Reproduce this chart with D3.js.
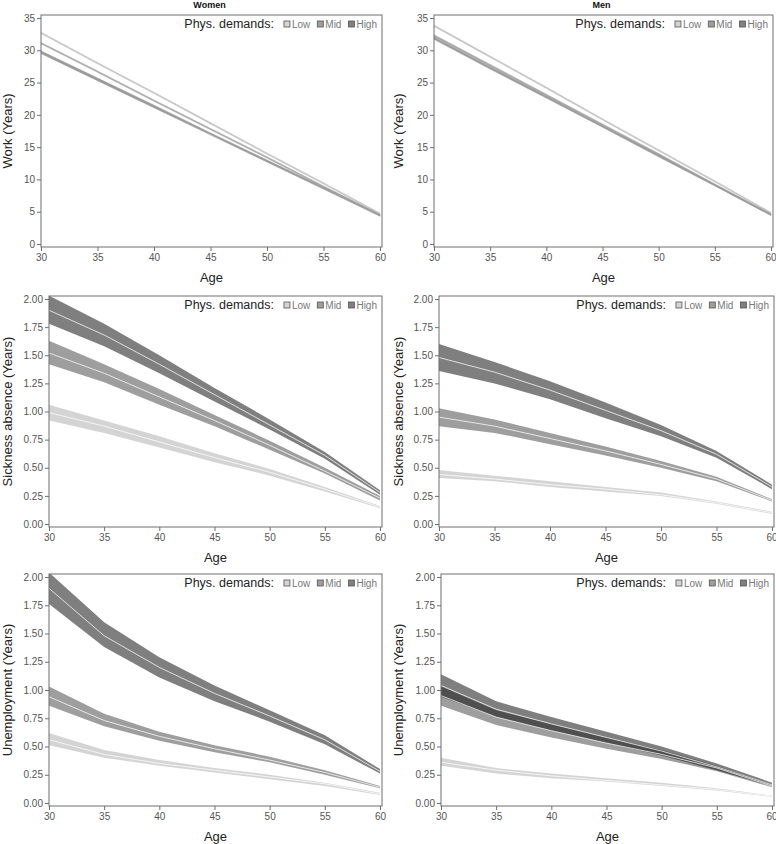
<!DOCTYPE html>
<html>
<head>
<meta charset="utf-8">
<script src="https://cdn.jsdelivr.net/npm/d3@7"></script>
<style>
  body { margin: 0; background: #fff; }
  svg { font-family: "Liberation Sans", Arial, sans-serif; }
</style>
</head>
<body>
<div id="chart"></div>
<script>
// ages on the x axis
const AGES = [30, 35, 40, 45, 50, 55, 60];
const GROUPS = ["Low", "Mid", "High"];

// each value is [lower, estimate, upper]
// Work (Years)
const womenWorkLow  = [[32.6,32.7,32.8],[27.9,28.0,28.1],[23.3,23.4,23.5],[18.6,18.7,18.8],[13.9,14.0,14.1],[9.3,9.4,9.5],[4.6,4.7,4.8]];
const womenWorkMid  = [[31.0,31.1,31.2],[26.6,26.7,26.8],[22.1,22.2,22.3],[17.7,17.8,17.9],[13.3,13.4,13.5],[8.8,8.9,9.0],[4.4,4.5,4.6]];
const womenWorkHigh = [[29.5,29.7,29.9],[25.3,25.5,25.7],[21.1,21.3,21.5],[16.9,17.0,17.2],[12.7,12.8,13.0],[8.5,8.6,8.8],[4.3,4.4,4.5]];
const menWorkLow    = [[33.7,33.8,33.9],[28.9,29.0,29.1],[24.1,24.2,24.3],[19.2,19.3,19.4],[14.4,14.5,14.6],[9.6,9.7,9.8],[4.7,4.8,4.9]];
const menWorkMid    = [[32.1,32.2,32.4],[27.5,27.6,27.8],[22.9,23.0,23.2],[18.3,18.4,18.6],[13.7,13.8,14.0],[9.1,9.2,9.3],[4.5,4.6,4.7]];
const menWorkHigh   = [[31.7,31.8,32.0],[27.1,27.3,27.4],[22.6,22.7,22.9],[18.1,18.2,18.3],[13.5,13.6,13.8],[9.0,9.1,9.2],[4.4,4.5,4.6]];

// Sickness absence (Years)
const womenSickLow  = [[0.92,0.99,1.06],[0.81,0.87,0.92],[0.68,0.73,0.78],[0.55,0.59,0.63],[0.43,0.46,0.49],[0.29,0.31,0.33],[0.14,0.15,0.16]];
const womenSickMid  = [[1.42,1.52,1.63],[1.26,1.34,1.42],[1.06,1.13,1.20],[0.87,0.92,0.97],[0.66,0.70,0.74],[0.45,0.47,0.50],[0.21,0.23,0.25]];
const womenSickHigh = [[1.78,1.90,2.03],[1.58,1.68,1.78],[1.34,1.42,1.50],[1.09,1.15,1.21],[0.84,0.88,0.93],[0.58,0.61,0.64],[0.26,0.28,0.30]];
const menSickLow    = [[0.41,0.44,0.48],[0.38,0.40,0.43],[0.33,0.35,0.38],[0.29,0.31,0.33],[0.25,0.26,0.28],[0.18,0.19,0.20],[0.09,0.10,0.11]];
const menSickMid    = [[0.87,0.95,1.03],[0.81,0.87,0.93],[0.71,0.76,0.81],[0.61,0.65,0.69],[0.50,0.53,0.56],[0.38,0.40,0.42],[0.20,0.21,0.22]];
const menSickHigh   = [[1.36,1.48,1.60],[1.25,1.35,1.44],[1.11,1.19,1.27],[0.94,1.01,1.08],[0.78,0.83,0.88],[0.59,0.62,0.65],[0.31,0.33,0.35]];

// Unemployment (Years)
const womenUnempLow  = [[0.51,0.56,0.62],[0.40,0.43,0.47],[0.33,0.35,0.38],[0.27,0.29,0.31],[0.21,0.23,0.25],[0.15,0.17,0.18],[0.07,0.08,0.09]];
const womenUnempMid  = [[0.86,0.94,1.03],[0.68,0.73,0.79],[0.55,0.59,0.63],[0.45,0.48,0.51],[0.36,0.38,0.41],[0.25,0.27,0.29],[0.13,0.14,0.15]];
const womenUnempHigh = [[1.76,1.90,2.04],[1.38,1.48,1.60],[1.11,1.20,1.29],[0.90,0.97,1.04],[0.72,0.77,0.82],[0.52,0.56,0.60],[0.26,0.28,0.30]];
const menUnempLow    = [[0.33,0.36,0.40],[0.26,0.29,0.31],[0.22,0.24,0.26],[0.19,0.20,0.22],[0.15,0.16,0.18],[0.11,0.12,0.13],[0.055,0.06,0.065]];
const menUnempMid    = [[0.86,0.95,1.03],[0.69,0.76,0.82],[0.58,0.64,0.70],[0.48,0.53,0.58],[0.39,0.43,0.47],[0.28,0.31,0.33],[0.14,0.15,0.16]];
const menUnempHigh   = [[0.94,1.04,1.14],[0.76,0.83,0.90],[0.64,0.70,0.76],[0.53,0.58,0.63],[0.42,0.46,0.50],[0.29,0.32,0.35],[0.15,0.16,0.18]];

const WORK_TICKS = [0, 5, 10, 15, 20, 25, 30, 35];
const RATE_TICKS = [0, 0.25, 0.5, 0.75, 1, 1.25, 1.5, 1.75, 2];

var fillColor = d3.scaleOrdinal().domain(GROUPS)
  .range(["rgba(0,0,0,0.17)", "rgba(0,0,0,0.38)", "rgba(0,0,0,0.5)"]);
var swatchColor = d3.scaleOrdinal().domain(GROUPS).range(["#d4d4d4", "#9e9e9e", "#808080"]);
var workLineColor = d3.scaleOrdinal().domain(GROUPS).range(["#c4c4c4", "#a8a8a8", "#9a9a9a"]);

var W = 776, H = 844;
var svg = d3.select("#chart").append("svg").attr("width", W).attr("height", H);

// panel layout
var panels = [
  { title: "Women", ylab: "Work (Years)", ticks: WORK_TICKS, ymax: 35, fmt: d3.format("d"), thin: true,
    series: [womenWorkLow, womenWorkMid, womenWorkHigh], x0: 41, x1: 382, top: 15, bottom: 247, ylabX: 7 },
  { title: "Men", ylab: "Work (Years)", ticks: WORK_TICKS, ymax: 35, fmt: d3.format("d"), thin: true,
    series: [menWorkLow, menWorkMid, menWorkHigh], x0: 434, x1: 773, top: 15, bottom: 247, ylabX: 398 },
  { ylab: "Sickness absence (Years)", ticks: RATE_TICKS, ymax: 2, fmt: d3.format(".2f"),
    series: [womenSickLow, womenSickMid, womenSickHigh], x0: 49, x1: 382, top: 296, bottom: 527, ylabX: 7 },
  { ylab: "Sickness absence (Years)", ticks: RATE_TICKS, ymax: 2, fmt: d3.format(".2f"),
    series: [menSickLow, menSickMid, menSickHigh], x0: 439, x1: 774, top: 296, bottom: 527, ylabX: 398 },
  { ylab: "Unemployment (Years)", ticks: RATE_TICKS, ymax: 2, fmt: d3.format(".2f"),
    series: [womenUnempLow, womenUnempMid, womenUnempHigh], x0: 49, x1: 382, top: 574, bottom: 806, ylabX: 7 },
  { ylab: "Unemployment (Years)", ticks: RATE_TICKS, ymax: 2, fmt: d3.format(".2f"),
    series: [menUnempLow, menUnempMid, menUnempHigh], x0: 441, x1: 774, top: 574, bottom: 806, ylabX: 398 }
];

panels.forEach(function (p, pi) {
  var g = svg.append("g");
  var x = d3.scaleLinear().domain([30, 60]).range([p.x0, p.x1 - 2]);
  var y = d3.scaleLinear().domain([0, p.ymax]).range([p.bottom - 3, p.top + 3]);

  var clipId = "clip" + pi;
  g.append("clipPath").attr("id", clipId)
    .append("rect").attr("x", p.x0).attr("y", p.top)
    .attr("width", p.x1 - p.x0).attr("height", p.bottom - p.top);

  var plot = g.append("g").attr("clip-path", "url(#" + clipId + ")");

  var band = d3.area()
    .x(function (d, i) { return x(AGES[i]); })
    .y0(function (d) { return y(d[0]); })
    .y1(function (d) { return y(d[2]); });
  var line = d3.line()
    .x(function (d, i) { return x(AGES[i]); })
    .y(function (d) { return y(d[1]); });

  p.series.forEach(function (s, gi) {
    if (p.thin) {
      // confidence band is only a pixel or two wide here
      plot.append("path").attr("d", band(s))
        .attr("fill", workLineColor(GROUPS[gi]))
        .attr("stroke", workLineColor(GROUPS[gi])).attr("stroke-width", 0.6);
    } else {
      plot.append("path").attr("d", band(s)).attr("fill", fillColor(GROUPS[gi]));
    }
  });
  if (!p.thin) {
    p.series.forEach(function (s) {
      plot.append("path").attr("d", line(s))
        .attr("fill", "none")
        .attr("stroke", "rgba(255,255,255,0.75)")
        .attr("stroke-width", 1);
    });
  }

  // frame
  g.append("rect").attr("x", p.x0).attr("y", p.top)
    .attr("width", p.x1 - p.x0).attr("height", p.bottom - p.top)
    .attr("fill", "none").attr("stroke", "#6e6e6e").attr("stroke-width", 1);

  // axes
  var yAxis = g.append("g").attr("transform", "translate(" + p.x0 + ",0)")
    .call(d3.axisLeft(y).tickValues(p.ticks).tickFormat(p.fmt).tickSize(4).tickPadding(2));
  var xAxis = g.append("g").attr("transform", "translate(0," + p.bottom + ")")
    .call(d3.axisBottom(x).tickValues(AGES).tickSize(4).tickPadding(3));
  [xAxis, yAxis].forEach(function (a) {
    a.select(".domain").remove();
    a.selectAll("line").attr("stroke", "#6e6e6e");
    a.selectAll("text").attr("fill", "#555").style("font-size", "10px");
  });
  // keep the last age label inside the page on the right column
  if (p.x1 > 700) {
    xAxis.selectAll(".tick").filter(function (d) { return d === 60; })
      .select("text").attr("text-anchor", "end").attr("dx", "5");
  }

  g.append("text")
    .attr("x", (p.x0 + p.x1) / 2).attr("y", p.bottom + 35)
    .attr("text-anchor", "middle").attr("fill", "#222")
    .style("font-size", "13px").text("Age");

  g.append("text")
    .attr("transform", "translate(" + (p.ylabX + 5) + "," + ((p.top + p.bottom) / 2) + ") rotate(-90)")
    .attr("text-anchor", "middle").attr("fill", "#222")
    .style("font-size", "13px").text(p.ylab);

  if (p.title) {
    g.append("text")
      .attr("x", (p.x0 + p.x1) / 2 - 2).attr("y", 8)
      .attr("text-anchor", "middle").attr("fill", "#111")
      .style("font-size", "9px").style("font-weight", "bold").text(p.title);
  }

  // legend
  var lg = g.append("g");
  var cx = 0;
  var t = lg.append("text").attr("x", cx).attr("y", 0).attr("fill", "#222")
    .style("font-size", "12.5px").text("Phys. demands:");
  cx += t.node().getComputedTextLength() + 10;
  GROUPS.forEach(function (gr) {
    lg.append("rect").attr("x", cx).attr("y", -7).attr("width", 6).attr("height", 6)
      .attr("fill", swatchColor(gr)).attr("stroke", "#555").attr("stroke-width", 0.8);
    cx += 8;
    var tt = lg.append("text").attr("x", cx).attr("y", 0).attr("fill", "#777")
      .style("font-size", "10px").text(gr);
    cx += tt.node().getComputedTextLength() + 7;
  });
  cx -= 7;
  lg.attr("transform", "translate(" + (p.x1 - 5 - cx) + "," + (p.top + 13) + ")");
});
</script>
</body>
</html>
